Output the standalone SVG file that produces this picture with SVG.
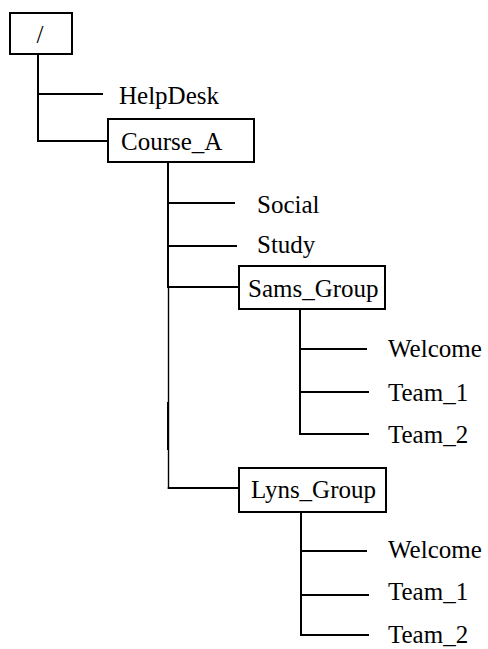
<svg xmlns="http://www.w3.org/2000/svg" width="488" height="649" viewBox="0 0 488 649">
<style>
rect{fill:#fff;stroke:#000;stroke-width:2}
line{stroke:#000;stroke-width:2}
line.thin{stroke-width:1.4}
text{font-family:"Liberation Serif","Times New Roman",serif;font-size:25px;fill:#000}
</style>
<rect x="0" y="0" width="488" height="649" style="stroke:none"/>
<g id="connectors">
<line x1="38" y1="54" x2="38" y2="142"/>
<line x1="37" y1="94" x2="103" y2="94"/>
<line x1="37" y1="141" x2="108" y2="141"/>
<line x1="168" y1="163" x2="168" y2="288"/>
<line class="thin" x1="168.5" y1="287" x2="168.5" y2="489"/>
<line x1="168" y1="402" x2="168" y2="450"/>
<line x1="167" y1="203" x2="235" y2="203"/>
<line x1="167" y1="246" x2="237" y2="246"/>
<line x1="167" y1="287" x2="239" y2="287"/>
<line x1="167.8" y1="488" x2="239" y2="488"/>
<line x1="300" y1="310" x2="300" y2="435"/>
<line x1="299" y1="349" x2="367" y2="349"/>
<line x1="299" y1="392" x2="369" y2="392"/>
<line x1="299" y1="434" x2="369" y2="434"/>
<line x1="301" y1="512" x2="301" y2="636"/>
<line x1="300" y1="551" x2="367" y2="551"/>
<line x1="300" y1="595" x2="369" y2="595"/>
<line x1="300" y1="635" x2="369" y2="635"/>
</g>
<g id="root"><rect x="10" y="13" width="62" height="41"/><text x="40" y="43" text-anchor="middle">/</text></g>
<g id="helpdesk"><text x="119" y="104">HelpDesk</text></g>
<g id="course_a"><rect x="108" y="119" width="146" height="43"/><text x="121" y="150">Course_A</text></g>
<g id="social"><text x="257" y="213">Social</text></g>
<g id="study"><text x="257" y="253">Study</text></g>
<g id="sams_group"><rect x="239" y="266" width="146" height="43"/><text x="248" y="297">Sams_Group</text></g>
<g id="sams_welcome"><text x="388" y="357">Welcome</text></g>
<g id="sams_team1"><text x="388" y="401">Team_1</text></g>
<g id="sams_team2"><text x="388" y="443">Team_2</text></g>
<g id="lyns_group"><rect x="239" y="468" width="147" height="44"/><text x="251" y="498">Lyns_Group</text></g>
<g id="lyns_welcome"><text x="388" y="558">Welcome</text></g>
<g id="lyns_team1"><text x="388" y="600">Team_1</text></g>
<g id="lyns_team2"><text x="388" y="643">Team_2</text></g>
</svg>
